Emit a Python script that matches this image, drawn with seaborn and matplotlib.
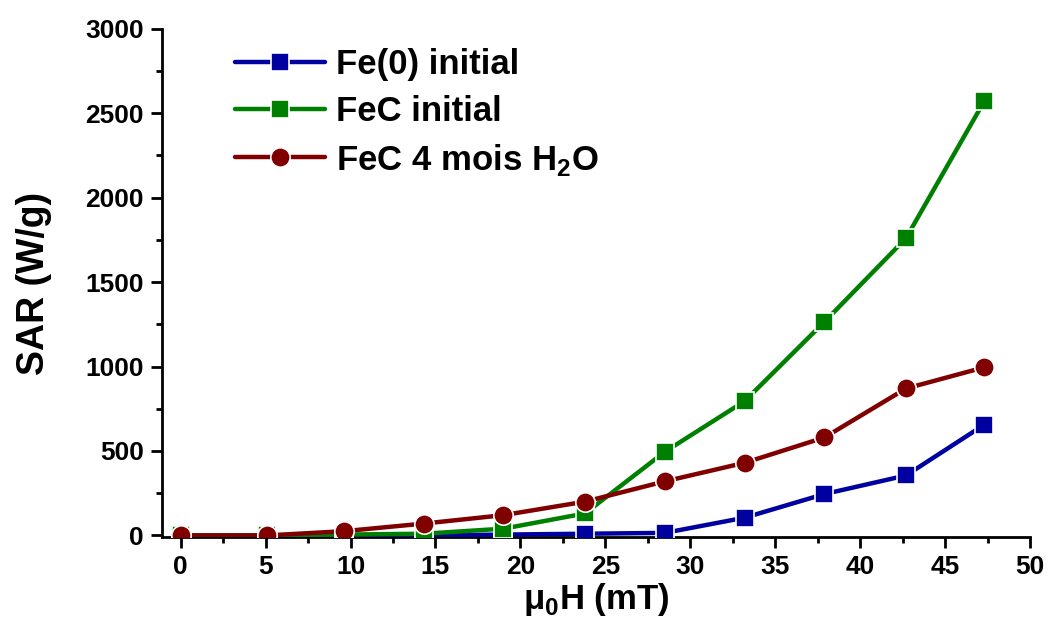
import matplotlib
matplotlib.use("Agg")
import matplotlib.pyplot as plt
from matplotlib.ticker import MultipleLocator
import numpy as np
import pandas as pd
import seaborn as sns

# field values (mT)
field = [0, 5.1, 9.6, 14.3, 19.0, 23.8, 28.5, 33.2, 37.9, 42.7, 47.3]

# SAR (W/g) for each sample
sar_fe0 = [0, 0, 0, 0, 5, 10, 15, 105, 245, 355, 655]
sar_fec = [0, 0, 5, 10, 40, 130, 495, 795, 1265, 1760, 2570]
sar_fec_h2o = [0, 0, 25, 70, 120, 200, 320, 430, 580, 870, 995]

labels = ["Fe(0) initial", "FeC initial", r"FeC 4 mois H$_\mathbf{2}$O"]
colors = ["#0000A0", "#008000", "#800000"]
marks = ["s", "s", "o"]

df = pd.concat([
    pd.DataFrame({"field": field, "sar": vals, "sample": lab})
    for vals, lab in zip([sar_fe0, sar_fec, sar_fec_h2o], labels)
])

sns.set_theme(style="ticks")
plt.rcParams["font.family"] = ["Liberation Sans", "DejaVu Sans"]
plt.rcParams["font.weight"] = "bold"
plt.rcParams["mathtext.fontset"] = "custom"
plt.rcParams["mathtext.rm"] = "Liberation Sans:bold"
plt.rcParams["mathtext.bf"] = "Liberation Sans:bold"
for key in ["text.color", "axes.labelcolor", "xtick.color", "ytick.color"]:
    plt.rcParams[key] = "black"

fig = plt.figure(figsize=(10.48, 6.26), dpi=100)
ax = fig.add_axes([0.1546, 0.142, 0.8282, 0.812])

# draw the red series first so the squares sit on top like the original
order = [2, 1, 0]
for i in order:
    sub = df[df["sample"] == labels[i]]
    sns.lineplot(data=sub, x="field", y="sar", ax=ax, color=colors[i],
                 marker=marks[i], markersize=13 if marks[i] == "s" else 14,
                 markeredgecolor="white", markeredgewidth=1.2,
                 linewidth=3.2, label=labels[i], zorder=3 + i)

ax.set_xlim(-1.1, 50)
ax.set_ylim(-10, 3000)
ax.xaxis.set_major_locator(MultipleLocator(5))
ax.xaxis.set_minor_locator(MultipleLocator(2.5))
ax.yaxis.set_major_locator(MultipleLocator(500))
ax.yaxis.set_minor_locator(MultipleLocator(250))
ax.tick_params(which="major", length=8, width=2, labelsize=19, direction="out",
               pad=5, colors="black")
ax.tick_params(which="minor", length=4, width=2, direction="out", colors="black")
for lab in ax.get_xticklabels() + ax.get_yticklabels():
    lab.set_fontweight("bold")

sns.despine(ax=ax)
for side in ["left", "bottom"]:
    ax.spines[side].set_linewidth(2)
    ax.spines[side].set_color("black")

ax.set_xlabel(r"μ$_\mathbf{0}$H (mT)", fontsize=25, fontweight="bold", labelpad=1)
ax.set_ylabel("SAR (W/g)", fontsize=27, fontweight="bold", labelpad=24)

handles, lbls = ax.get_legend_handles_labels()
idx = [lbls.index(l) for l in labels]
leg = ax.legend([handles[k] for k in idx], [lbls[k] for k in idx],
                loc="upper left", bbox_to_anchor=(0.068, 0.99), frameon=False,
                fontsize=25, handlelength=2.6, handletextpad=0.3,
                labelspacing=0.4, borderaxespad=0)
for t in leg.get_texts():
    t.set_fontweight("bold")
    t.set_color("black")

fig.savefig("out.png", dpi=100)
